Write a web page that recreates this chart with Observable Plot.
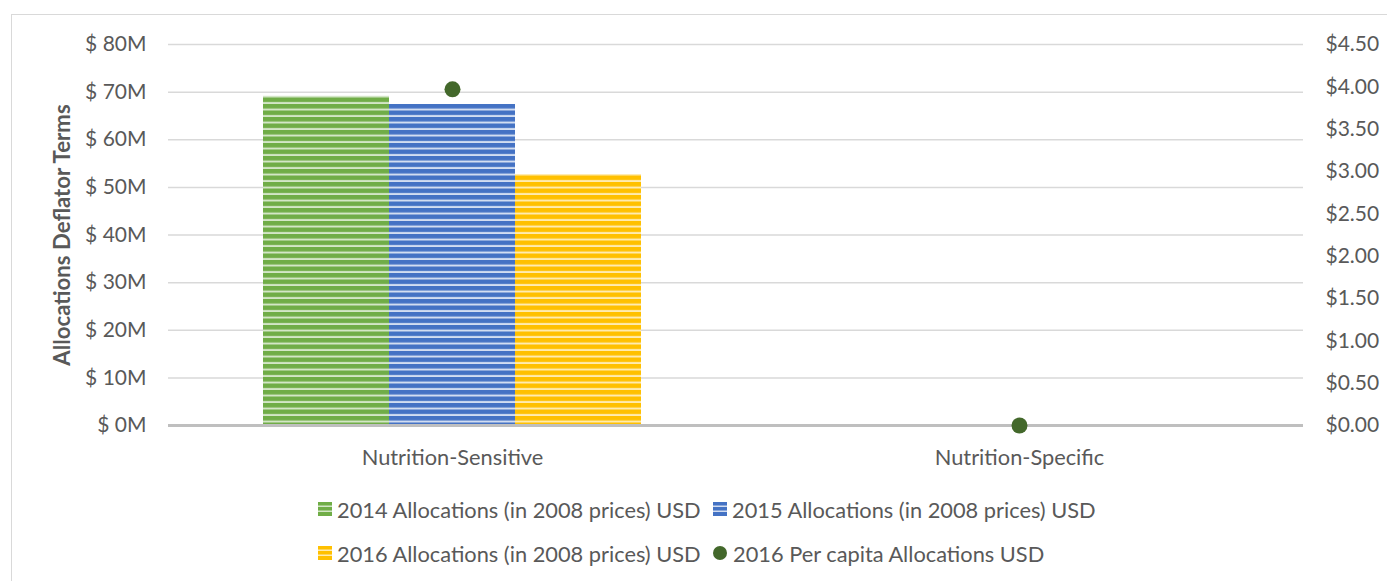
<!DOCTYPE html>
<html>
<head>
<meta charset="utf-8">
<script src="https://cdn.jsdelivr.net/npm/d3@7"></script>
<script src="https://cdn.jsdelivr.net/npm/@observablehq/plot@0.6"></script>
<style>
  html, body { margin: 0; padding: 0; background: #fff; overflow: hidden; }
  body { width: 1387px; height: 581px; position: relative; font-family: Lato, "Open Sans", sans-serif; color: #595959; }
  #frame { position: absolute; left: 11px; top: 14px; width: 1500px; height: 700px; border: 1.5px solid #d9d9d9; box-sizing: border-box; }
  .layer { position: absolute; left: 0; top: 0; }
  .layer svg { display: block; }
  #legend { position: absolute; left: 318px; top: 487px; display: grid; grid-template-columns: 395px auto; font-size: 21.8px; }
  .item { display: flex; align-items: center; height: 44px; white-space: nowrap; }
  .swatch { width: 14px; height: 14px; margin-right: 5px; }
  .dotsw { width: 14px; height: 14px; border-radius: 50%; margin-right: 6px; }
</style>
</head>
<body>
<div id="frame"></div>
<div id="back" class="layer"></div>
<div id="bars" class="layer"></div>
<div id="front" class="layer"></div>
<div id="legend"></div>
<script>
const categories = ["Nutrition-Sensitive", "Nutrition-Specific"];
const seriesNames = [
  "2014 Allocations (in 2008 prices) USD",
  "2015 Allocations (in 2008 prices) USD",
  "2016 Allocations (in 2008 prices) USD"
];
const alloc2014 = [69.1, 0];
const alloc2015 = [67.4, 0];
const alloc2016 = [52.7, 0];
const perCapitaName = "2016 Per capita Allocations USD";
const perCapita2016 = [3.97, 0];
const leftTicks = [0, 10, 20, 30, 40, 50, 60, 70, 80];
const rightTicks = [0, 0.5, 1, 1.5, 2, 2.5, 3, 3.5, 4, 4.5];
const yTitle = "Allocations Deflator Terms";

const seriesColors = ["#70ad47", "#4472c4", "#ffc000"];
const seriesLight = ["#d3e6c6", "#d2ddf1", "#ffebb0"];
const dotColor = "#43682b";

const allocs = [alloc2014, alloc2015, alloc2016];
const rows = [];
categories.forEach((c, i) => seriesNames.forEach((s, j) => rows.push({category: c, series: s, value: allocs[j][i]})));
const leftMax = leftTicks[leftTicks.length - 1];
const rightMax = rightTicks[rightTicks.length - 1];
const factor = leftMax / rightMax;
const dots = categories.map((c, i) => ({category: c, value: perCapita2016[i]}));
const patUrls = seriesNames.map((s, j) => `url(#pat${j})`);

const common = {
  width: 1387,
  height: 475,
  marginLeft: 168,
  marginRight: 84,
  marginTop: 44,
  marginBottom: 50,
  style: {fontFamily: "Lato, 'Open Sans', sans-serif", fontSize: "21px", color: "#595959", background: "transparent", overflow: "visible"},
  y: {domain: [0, leftMax], axis: null}
};
const catBand = {domain: categories, paddingInner: 0.334, paddingOuter: 0.167, axis: null, label: null};

// back layer: gridlines, axes, title
const back = Plot.plot({
  ...common,
  x: {...catBand},
  marks: [
    Plot.ruleY(leftTicks.filter(d => d > 0), {y: d => d, stroke: "#d9d9d9", strokeWidth: 1.5}),
    Plot.text(leftTicks, {y: d => d, text: d => `$ ${d}M`, frameAnchor: "left", textAnchor: "end", dx: -22}),
    Plot.text(rightTicks, {y: d => d * factor, text: d => "$" + d.toFixed(2), frameAnchor: "right", textAnchor: "start", dx: 22}),
    Plot.text([yTitle], {text: d => d, frameAnchor: "left", textAnchor: "middle", lineAnchor: "middle", dx: -106, rotate: -90, fontWeight: "bold", fontSize: 22.2})
  ]
});

// bar layer: faceted grouped bars
const bars = Plot.plot({
  ...common,
  fx: {...catBand},
  x: {domain: seriesNames, padding: 0, axis: null},
  color: {domain: seriesNames, range: patUrls},
  marks: [
    Plot.barY(rows, {fx: "category", x: "series", y: "value", fill: "series"})
  ]
});

// front layer: zero line, per-capita dots, category labels
const front = Plot.plot({
  ...common,
  x: {...catBand},
  marks: [
    Plot.ruleY([0], {y: d => d, stroke: "#bfbfbf", strokeWidth: 3}),
    Plot.dot(dots, {x: "category", y: d => d.value * factor, r: 8, fill: dotColor, stroke: "none"}),
    Plot.text(categories, {x: d => d, text: d => d, frameAnchor: "bottom", lineAnchor: "middle", dy: 33, fontSize: 21.8})
  ]
});

// stripe patterns
const ns = "http://www.w3.org/2000/svg";
const defs = document.createElementNS(ns, "defs");
seriesColors.forEach((col, j) => {
  const p = document.createElementNS(ns, "pattern");
  p.setAttribute("id", `pat${j}`);
  p.setAttribute("patternUnits", "userSpaceOnUse");
  p.setAttribute("width", "10");
  p.setAttribute("height", "6.5");
  const bg = document.createElementNS(ns, "rect");
  bg.setAttribute("width", "10"); bg.setAttribute("height", "6.5"); bg.setAttribute("fill", seriesLight[j]);
  const fg = document.createElementNS(ns, "rect");
  fg.setAttribute("width", "10"); fg.setAttribute("height", "4.5"); fg.setAttribute("fill", col);
  p.appendChild(bg); p.appendChild(fg);
  defs.appendChild(p);
});
bars.insertBefore(defs, bars.firstChild);
document.getElementById("back").appendChild(back);
document.getElementById("bars").appendChild(bars);
document.getElementById("front").appendChild(front);

// legend
const legend = document.getElementById("legend");
function swatchSvg(j) {
  return `<svg class="swatch" width="14" height="14"><rect width="14" height="14" fill="${seriesLight[j]}"/>` +
    `<rect y="0" width="14" height="3.5" fill="${seriesColors[j]}"/><rect y="5" width="14" height="3.5" fill="${seriesColors[j]}"/><rect y="10" width="14" height="4" fill="${seriesColors[j]}"/></svg>`;
}
const items = seriesNames.map((s, j) => `<div class="item">${swatchSvg(j)}<span>${s}</span></div>`);
items.push(`<div class="item"><div class="dotsw" style="background:${dotColor}"></div><span>${perCapitaName}</span></div>`);
legend.innerHTML = items.join("");
</script>
</body>
</html>
